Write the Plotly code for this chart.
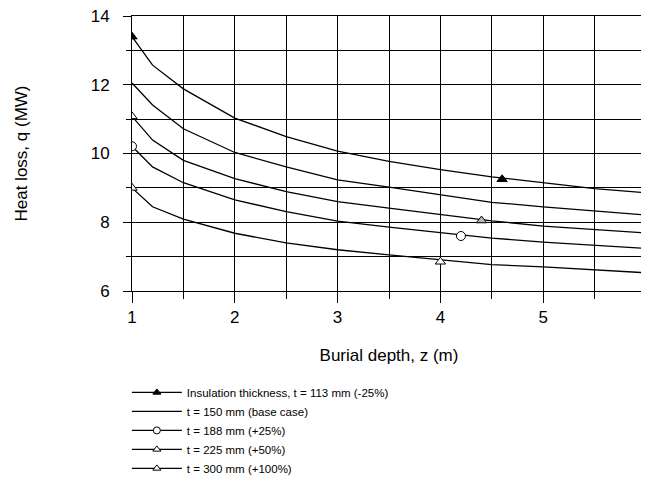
import plotly.graph_objects as go

# Burial depth z (m)
depth = [1, 1.2, 1.5, 2, 2.5, 3, 3.5, 4, 4.5, 5, 5.5, 6]

# Heat loss q (MW) per insulation thickness
q_113 = [13.4, 12.57, 11.88, 11.03, 10.49, 10.07, 9.77, 9.53, 9.32, 9.15, 8.98, 8.86]
q_150 = [12.05, 11.41, 10.72, 10.03, 9.61, 9.23, 9.02, 8.80, 8.58, 8.45, 8.32, 8.21]
q_188 = [10.21, 9.61, 9.15, 8.65, 8.31, 8.03, 7.86, 7.69, 7.54, 7.42, 7.32, 7.24]
q_225 = [11.08, 10.39, 9.8, 9.27, 8.89, 8.6, 8.41, 8.22, 8.04, 7.89, 7.79, 7.69]
q_300 = [9.0, 8.45, 8.09, 7.68, 7.4, 7.2, 7.05, 6.92, 6.77, 6.70, 6.62, 6.53]

# marked points on each curve (start + one label point)
mark_z_113, mark_q_113 = [1, 4.6], [13.4, 9.25]
mark_z_188, mark_q_188 = [1, 4.2], [10.21, 7.6]
mark_z_225, mark_q_225 = [1, 4.4], [11.08, 8.05]
mark_z_300, mark_q_300 = [1, 4.0], [9.0, 6.85]

names = ['Insulation thickness, t = 113 mm (-25%)',
         't = 150 mm (base case)',
         't = 188 mm (+25%)',
         't = 225 mm (+50%)',
         't = 300 mm (+100%)']

FONT = 'Liberation Sans, Arial, sans-serif'
fig = go.Figure()

curves = [q_113, q_150, q_188, q_225, q_300]
for q in curves:
    fig.add_trace(go.Scatter(x=depth, y=q, mode='lines', showlegend=False,
                             line=dict(color='black', width=1.3), hoverinfo='skip'))

marks = [
    (mark_z_113, mark_q_113, 'triangle-up', 'black'),
    (mark_z_188, mark_q_188, 'circle', 'white'),
    (mark_z_225, mark_q_225, 'triangle-up', ['white', '#b8b8b8']),
    (mark_z_300, mark_q_300, 'triangle-up', 'white'),
]
for mz, mq, sym, col in marks:
    fig.add_trace(go.Scatter(x=mz, y=mq, mode='markers', showlegend=False,
                             marker=dict(symbol=sym, size=9, color=col,
                                         line=dict(color='black', width=1))))

# legend entries
legend_syms = [('triangle-up', 'black'), (None, None), ('circle', 'white'),
               ('triangle-up', 'white'), ('triangle-up', 'white')]
for name, (sym, col) in zip(names, legend_syms):
    if sym is None:
        fig.add_trace(go.Scatter(x=[None], y=[None], mode='lines', name=name,
                                 line=dict(color='black', width=1.3)))
    else:
        fig.add_trace(go.Scatter(x=[None], y=[None], mode='lines+markers', name=name,
                                 line=dict(color='black', width=1.3),
                                 marker=dict(symbol=sym, size=7, color=col,
                                             line=dict(color='black', width=1))))

# page body has an 8px margin, so the figure is sized/offset for it
fig.update_layout(
    width=641, height=471,
    margin=dict(l=124, r=3, t=8, b=188, autoexpand=False),
    paper_bgcolor='white', plot_bgcolor='white',
    font=dict(family=FONT, size=17, color='black'),
    legend=dict(x=-0.01, y=-0.316, xanchor='left', yanchor='top',
                bgcolor='rgba(0,0,0,0)', font=dict(size=11.5), itemwidth=50,
                tracegroupgap=0),
    showlegend=True,
)
fig.update_xaxes(
    range=[1, 6], dtick=1, tick0=1, automargin=False,
    showline=True, mirror=True, linecolor='black', linewidth=1,
    showgrid=True, gridcolor='black', gridwidth=1,
    ticks='outside', ticklen=11, tickcolor='black',
    ticklabelstandoff=0, ticklabeloverflow='allow',
    minor=dict(dtick=0.5, tick0=1, showgrid=True, gridcolor='black', gridwidth=1,
               ticks='outside', ticklen=7, tickcolor='black'),
    zeroline=False,
    title=dict(text='Burial depth, z (m)', standoff=22, font=dict(size=17)),
)
fig.update_yaxes(
    range=[6, 14], dtick=2, tick0=6, automargin=False,
    showline=True, mirror=True, linecolor='black', linewidth=1,
    showgrid=True, gridcolor='black', gridwidth=1,
    ticks='outside', ticklen=8, tickcolor='black',
    ticklabelstandoff=10, ticklabeloverflow='allow',
    minor=dict(dtick=1, tick0=6, showgrid=True, gridcolor='black', gridwidth=1,
               ticks='outside', ticklen=5, tickcolor='black'),
    zeroline=False,
    title=dict(text='Heat loss, q (MW)', standoff=58, font=dict(size=17)),
)

fig.write_html("out.html")
